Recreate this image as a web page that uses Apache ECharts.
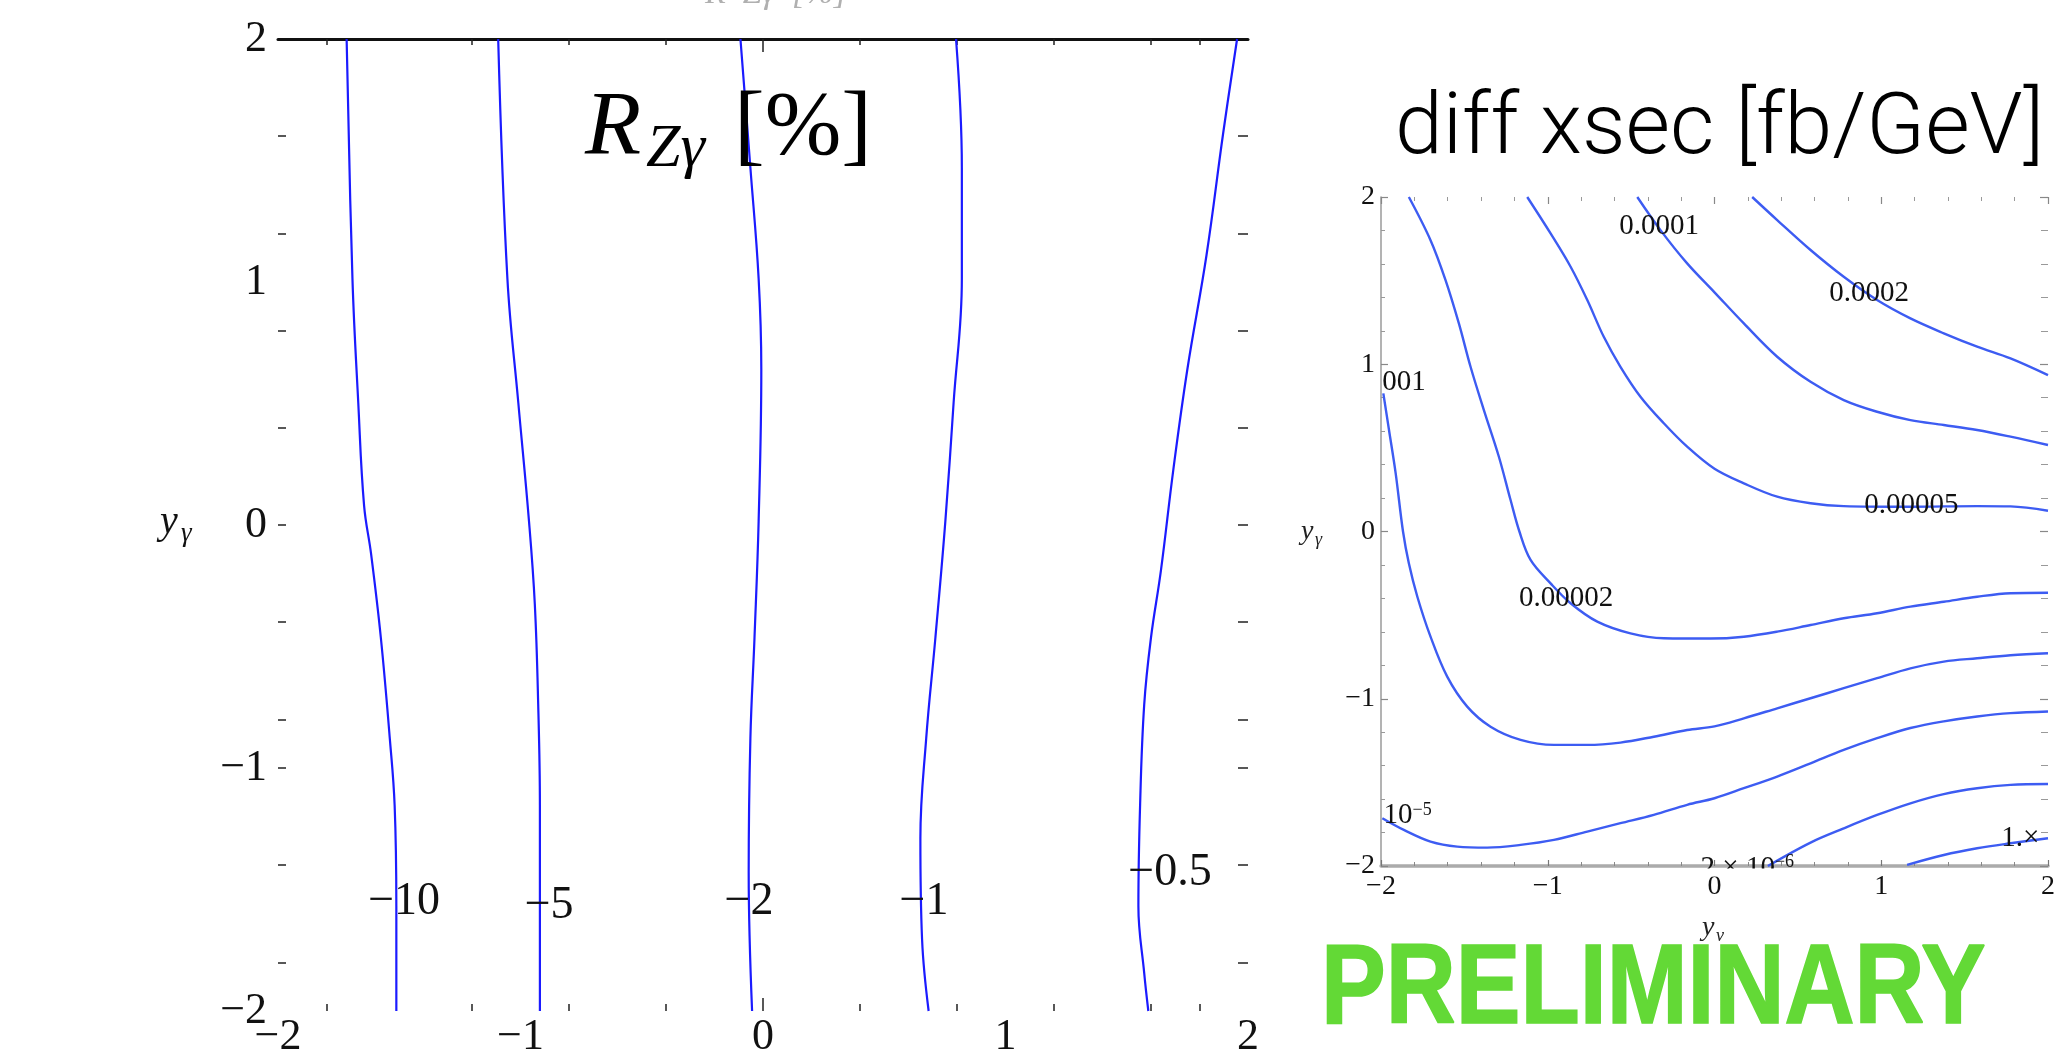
<!DOCTYPE html>
<html>
<head>
<meta charset="utf-8">
<script src="https://cdn.jsdelivr.net/npm/echarts@6/dist/echarts.min.js"></script>
<style>
  html, body { margin: 0; padding: 0; background: #fff; }
  #chart { width: 2065px; height: 1053px; }
</style>
</head>
<body>
<div id="chart"></div>
<script>
// ---------- Left panel: R_Zγ [%] contours ----------
const ratioLevels = ['\u221210', '\u22125', '\u22122', '\u22121', '\u22120.5'];
const ratioM10 = [[-1.717, 2.0], [-1.693, 1.014], [-1.669, 0.503], [-1.645, 0.08], [-1.616, -0.12], [-1.576, -0.463], [-1.539, -0.878], [-1.519, -1.154], [-1.512, -1.568], [-1.512, -2.0]];
const ratioM5 = [[-1.092, 2.0], [-1.054, 1.014], [-1.009, 0.503], [-0.965, 0.016], [-0.941, -0.325], [-0.927, -0.739], [-0.920, -1.154], [-0.920, -2.0]];
const ratioM2 = [[-0.093, 2.0], [-0.052, 1.47], [-0.018, 1.014], [-0.007, 0.641], [-0.018, 0.016], [-0.035, -0.463], [-0.052, -0.878], [-0.059, -1.43], [-0.045, -2.0]];
const ratioM1 = [[0.796, 2.0], [0.820, 1.47], [0.820, 1.014], [0.786, 0.503], [0.752, 0.016], [0.711, -0.463], [0.673, -0.878], [0.649, -1.29], [0.656, -1.706], [0.683, -2.0]];
const ratioM05 = [[1.955, 2.0], [1.897, 1.608], [1.829, 1.111], [1.750, 0.641], [1.692, 0.227], [1.641, -0.187], [1.600, -0.463], [1.572, -0.739], [1.555, -1.154], [1.548, -1.568], [1.572, -1.844], [1.589, -2.0]];
const ratioLabelAt = [[-1.48, -1.551], [-0.882, -1.568], [-0.058, -1.551], [0.664, -1.551], [1.678, -1.432]];
const ratioTickLabels = [-2, -1, 0, 1, 2];
const ratioXTicks = [-1.8, -1.2, -0.8, -0.4, 0.4, 0.8, 1.2, 1.6, 1.8];
const ratioYTicks = [-1.8, -1.4, -1, -0.8, -0.4, 0, 0.4, 0.8, 1.2, 1.6];

// ---------- Right panel: differential cross section [fb/GeV] ----------
const xsec0002 = [[0.226, 2.0], [0.376, 1.862], [0.576, 1.683], [0.775, 1.523], [0.975, 1.384], [1.175, 1.274], [1.375, 1.185], [1.575, 1.105], [1.775, 1.035], [2.0, 0.935]];
const xsec0001 = [[-0.463, 2.0], [-0.324, 1.802], [-0.164, 1.603], [0.0, 1.43], [0.176, 1.244], [0.376, 1.045], [0.576, 0.895], [0.775, 0.786], [0.975, 0.716], [1.175, 0.666], [1.375, 0.637], [1.575, 0.607], [1.775, 0.567], [2.0, 0.517]];
const xsec00005 = [[-1.123, 2.0], [-0.983, 1.782], [-0.863, 1.583], [-0.763, 1.384], [-0.664, 1.164], [-0.564, 0.985], [-0.444, 0.806], [-0.304, 0.647], [-0.164, 0.507], [0.0, 0.375], [0.176, 0.288], [0.376, 0.208], [0.576, 0.169], [0.775, 0.152], [1.175, 0.148], [1.575, 0.152], [1.775, 0.150], [2.0, 0.124]];
const xsec00002 = [[-1.833, 2.0], [-1.703, 1.742], [-1.613, 1.503], [-1.533, 1.244], [-1.463, 0.985], [-1.383, 0.726], [-1.293, 0.447], [-1.223, 0.188], [-1.17, 0.0], [-1.103, -0.170], [-0.983, -0.310], [-0.863, -0.429], [-0.703, -0.539], [-0.504, -0.609], [-0.304, -0.638], [-0.024, -0.640], [0.176, -0.629], [0.376, -0.599], [0.576, -0.559], [0.775, -0.519], [0.975, -0.489], [1.175, -0.449], [1.375, -0.420], [1.575, -0.390], [1.775, -0.369], [2.0, -0.366]];
const xsecA = [[-1.986, 0.826], [-1.952, 0.607], [-1.912, 0.348], [-1.868, 0.0], [-1.833, -0.190], [-1.782, -0.390], [-1.703, -0.629], [-1.603, -0.868], [-1.483, -1.047], [-1.343, -1.167], [-1.163, -1.246], [-0.963, -1.276], [-0.763, -1.276], [-0.564, -1.262], [-0.364, -1.227], [-0.164, -1.187], [0.0, -1.165], [0.176, -1.117], [0.376, -1.057], [0.576, -0.997], [0.775, -0.937], [0.975, -0.877], [1.175, -0.818], [1.375, -0.778], [1.575, -0.758], [1.775, -0.740], [2.0, -0.728]];
const xsec1e5 = [[-1.992, -1.714], [-1.863, -1.784], [-1.703, -1.854], [-1.543, -1.884], [-1.363, -1.890], [-1.163, -1.874], [-0.963, -1.844], [-0.763, -1.794], [-0.564, -1.744], [-0.364, -1.694], [-0.164, -1.634], [0.0, -1.595], [0.176, -1.535], [0.376, -1.465], [0.576, -1.386], [0.775, -1.306], [0.975, -1.236], [1.175, -1.175], [1.375, -1.135], [1.575, -1.106], [1.775, -1.086], [2.0, -1.076]];
const xsec2e6 = [[0.32, -2.0], [0.576, -1.86], [0.775, -1.775], [0.975, -1.695], [1.175, -1.625], [1.375, -1.57], [1.575, -1.535], [1.775, -1.515], [2.0, -1.51]];
const xsec1e6 = [[1.155, -1.993], [1.375, -1.934], [1.575, -1.894], [1.775, -1.864], [2.0, -1.834]];
const xsecLabels = ['0.0002', '0.0001', '0.00005', '0.00002', '001', '{n|10}{s|\u22125}', '{n|2 \u00d7 10}{s|\u22126}', '1.\u00d7'];
const xsecLabelAt = [[0.928, 1.424], [-0.332, 1.827], [1.180, 0.159], [-0.890, -0.397], [-1.862, 0.893], [-1.84, -1.70], [0.197, -2.012], [1.834, -1.833]];
const xsecTickLabels = [-2, -1, 0, 1, 2];

const serif = 'Liberation Serif';
const LEFT_BLUE = '#1b1bff';
const RIGHT_BLUE = '#3d5cf2';
const fmt = v => (v < 0 ? '\u2212' + Math.abs(v) : String(v));

function ratioLine(data) {
  return {
    type: 'line', xAxisIndex: 0, yAxisIndex: 0, data: data, smooth: 0.4,
    showSymbol: false, symbol: 'none', silent: true,
    lineStyle: { color: LEFT_BLUE, width: 2.2 }
  };
}
function xsecLine(data) {
  return {
    type: 'line', xAxisIndex: 4, yAxisIndex: 2, data: data, smooth: 0.35,
    showSymbol: false, symbol: 'none', silent: true,
    lineStyle: { color: RIGHT_BLUE, width: 2.4 }
  };
}

const hiddenAxisBits = { axisLabel: { show: false }, splitLine: { show: false } };

const option = {
  backgroundColor: '#ffffff',
  animation: false,
  grid: [
    { left: 278, top: 39, width: 970, height: 972, outerBoundsMode: 'none', containLabel: false },
    { left: 1381, top: 197, width: 667, height: 669, outerBoundsMode: 'none', containLabel: false }
  ],
  xAxis: [
    { // 0: left panel, bottom labels and ticks
      gridIndex: 0, type: 'value', position: 'bottom', min: -2, max: 2, interval: 1,
      axisLine: { show: false, onZero: false }, splitLine: { show: false },
      axisTick: { show: true, inside: true, length: 7, customValues: ratioXTicks, lineStyle: { color: '#222', width: 1.5 } },
      axisLabel: { margin: 4, fontSize: 44, fontFamily: serif, color: '#111', customValues: ratioTickLabels, formatter: fmt }
    },
    { // 1: left panel, longer bottom tick at zero
      gridIndex: 0, type: 'value', position: 'bottom', min: -2, max: 2, interval: 1,
      axisLine: { show: false, onZero: false }, ...hiddenAxisBits,
      axisTick: { show: true, inside: true, length: 13, customValues: [0], lineStyle: { color: '#222', width: 1.5 } }
    },
    { // 2: left panel, top frame line
      gridIndex: 0, type: 'value', position: 'top', min: -2, max: 2, interval: 1,
      axisLine: { show: true, onZero: false, lineStyle: { color: '#111', width: 3 } }, ...hiddenAxisBits,
      axisTick: { show: true, inside: true, length: 6, customValues: ratioXTicks, lineStyle: { color: '#222', width: 1.5 } }
    },
    { // 3: left panel, longer top tick at zero
      gridIndex: 0, type: 'value', position: 'top', min: -2, max: 2, interval: 1,
      axisLine: { show: false, onZero: false }, ...hiddenAxisBits,
      axisTick: { show: true, inside: true, length: 13, customValues: [0], lineStyle: { color: '#222', width: 1.5 } }
    },
    { // 4: right panel, bottom
      gridIndex: 1, type: 'value', position: 'bottom', min: -2, max: 2, interval: 1,
      axisLine: { show: true, onZero: false, lineStyle: { color: '#ababab', width: 3.5 } }, splitLine: { show: false },
      axisTick: { show: true, inside: true, length: 6, lineStyle: { color: '#777', width: 1.2 } },
      minorTick: { show: true, splitNumber: 5, length: 4, lineStyle: { color: '#888', width: 1 } },
      axisLabel: { margin: 7, fontSize: 28, fontFamily: serif, color: '#111', customValues: xsecTickLabels, formatter: fmt }
    },
    { // 5: right panel, top
      gridIndex: 1, type: 'value', position: 'top', min: -2, max: 2, interval: 1,
      axisLine: { show: false, onZero: false }, ...hiddenAxisBits,
      axisTick: { show: true, inside: true, length: 7, lineStyle: { color: '#888', width: 1.2 } },
      minorTick: { show: true, splitNumber: 5, length: 4, lineStyle: { color: '#999', width: 1 } }
    }
  ],
  yAxis: [
    { // 0: left panel, left labels and ticks
      gridIndex: 0, type: 'value', position: 'left', min: -2, max: 2, interval: 1,
      axisLine: { show: false, onZero: false }, splitLine: { show: false },
      axisTick: { show: true, inside: true, length: 8, customValues: ratioYTicks, lineStyle: { color: '#222', width: 1.5 } },
      axisLabel: { margin: 11, fontSize: 44, fontFamily: serif, color: '#111', customValues: ratioTickLabels, formatter: fmt }
    },
    { // 1: left panel, right ticks
      gridIndex: 0, type: 'value', position: 'right', min: -2, max: 2, interval: 1,
      axisLine: { show: false, onZero: false }, ...hiddenAxisBits,
      axisTick: { show: true, inside: true, length: 10, customValues: ratioYTicks, lineStyle: { color: '#222', width: 1.5 } }
    },
    { // 2: right panel, left
      gridIndex: 1, type: 'value', position: 'left', min: -2, max: 2, interval: 1,
      axisLine: { show: true, onZero: false, lineStyle: { color: '#9a9a9a', width: 1.5 } }, splitLine: { show: false },
      axisTick: { show: true, inside: true, length: 7, lineStyle: { color: '#888', width: 1.2 } },
      minorTick: { show: true, splitNumber: 5, length: 4, lineStyle: { color: '#999', width: 1 } },
      axisLabel: { margin: 6, fontSize: 28, fontFamily: serif, color: '#111', customValues: xsecTickLabels, formatter: fmt }
    },
    { // 3: right panel, right
      gridIndex: 1, type: 'value', position: 'right', min: -2, max: 2, interval: 1,
      axisLine: { show: false, onZero: false }, ...hiddenAxisBits,
      axisTick: { show: true, inside: true, length: 8, lineStyle: { color: '#888', width: 1.2 } },
      minorTick: { show: true, splitNumber: 5, length: 7, lineStyle: { color: '#999', width: 1 } }
    }
  ],
  series: [
    ratioLine(ratioM10), ratioLine(ratioM5), ratioLine(ratioM2), ratioLine(ratioM1), ratioLine(ratioM05),
    {
      type: 'scatter', xAxisIndex: 0, yAxisIndex: 0, z: 5, silent: true, clip: false,
      symbolSize: 1, itemStyle: { color: 'rgba(0,0,0,0)' },
      data: ratioLabelAt.map((p, i) => ({ value: p, name: ratioLevels[i] })),
      label: { show: true, opacity: 1, position: 'inside', formatter: '{b}', fontSize: 46, fontFamily: serif, color: '#111' }
    },
    xsecLine(xsec0002), xsecLine(xsec0001), xsecLine(xsec00005), xsecLine(xsec00002),
    xsecLine(xsecA), xsecLine(xsec1e5), xsecLine(xsec2e6), xsecLine(xsec1e6),
    {
      type: 'scatter', xAxisIndex: 4, yAxisIndex: 2, z: 5, silent: true, clip: false,
      symbolSize: 1, itemStyle: { color: 'rgba(0,0,0,0)' },
      data: xsecLabelAt.map((p, i) => ({ value: p, name: xsecLabels[i] })),
      label: {
        show: true, opacity: 1, position: 'inside', formatter: p => p.name,
        fontSize: 29, fontFamily: serif, color: '#111',
        rich: {
          n: { fontSize: 29, fontFamily: serif, color: '#111' },
          s: { fontSize: 18, fontFamily: serif, color: '#111', verticalAlign: 'top', padding: [0, 0, 10, 0] }
        }
      }
    }
  ],
  graphic: [
    // faint heading running off the top edge
    { type: 'text', x: 705, y: -6, z: 40, style: { text: 'R  Z\u03b3  [%]', fontSize: 34, fontFamily: serif, fontStyle: 'italic', fill: '#b0b0b0', align: 'left', verticalAlign: 'middle' } },
    // panel title, left
    { type: 'text', x: 585, y: 130, z: 50, style: { text: 'R', fontSize: 92, fontFamily: serif, fontStyle: 'italic', fill: '#000', align: 'left', verticalAlign: 'middle' } },
    { type: 'text', x: 646, y: 150, z: 50, style: { text: 'Z\u03b3', fontSize: 62, fontFamily: serif, fontStyle: 'italic', fill: '#000', align: 'left', verticalAlign: 'middle' } },
    { type: 'text', x: 734, y: 130, z: 50, style: { text: '[%]', fontSize: 92, fontFamily: serif, fill: '#000', align: 'left', verticalAlign: 'middle' } },
    // axis name, left panel
    { type: 'text', x: 160, y: 522, z: 50, style: { text: 'y', fontSize: 40, fontFamily: serif, fontStyle: 'italic', fill: '#111', align: 'left', verticalAlign: 'middle' } },
    { type: 'text', x: 181, y: 534, z: 50, style: { text: '\u03b3', fontSize: 27, fontFamily: serif, fontStyle: 'italic', fill: '#111', align: 'left', verticalAlign: 'middle' } },
    // panel title, right
    { type: 'text', x: 1395, y: 131, z: 50, style: { text: 'diff xsec [fb/GeV]', fontSize: 86, fontFamily: 'Roboto', fontWeight: 300, fill: '#000', align: 'left', verticalAlign: 'middle' } },
    // axis names, right panel
    { type: 'text', x: 1301, y: 532, z: 50, style: { text: 'y', fontSize: 28, fontFamily: serif, fontStyle: 'italic', fill: '#222', align: 'left', verticalAlign: 'middle' } },
    { type: 'text', x: 1315, y: 540, z: 50, style: { text: '\u03b3', fontSize: 18, fontFamily: serif, fontStyle: 'italic', fill: '#222', align: 'left', verticalAlign: 'middle' } },
    { type: 'text', x: 1702, y: 928, z: 50, style: { text: 'y', fontSize: 28, fontFamily: serif, fontStyle: 'italic', fill: '#222', align: 'left', verticalAlign: 'middle' } },
    { type: 'text', x: 1716, y: 936, z: 50, style: { text: '\u03bd', fontSize: 18, fontFamily: serif, fontStyle: 'italic', fill: '#222', align: 'left', verticalAlign: 'middle' } },
    // mask under the bottom frame of the right panel (contour label runs off the plot)
    { type: 'rect', z: 60, shape: { x: 1690, y: 868.5, width: 115, height: 8 }, style: { fill: '#fff' } },
    // stamp
    { type: 'text', x: 1321, y: 1031, scaleY: 1.16, z: 70, style: { text: 'PRELIMINARY', x: 0, y: -34, fontSize: 97, fontFamily: 'Liberation Sans', fontWeight: 'bold', fill: '#63d936', stroke: '#63d936', lineWidth: 1.5, align: 'left', verticalAlign: 'middle' } }
  ]
};

const chart = echarts.init(document.getElementById('chart'), null, { renderer: 'canvas' });
chart.setOption(option);
</script>
</body>
</html>
